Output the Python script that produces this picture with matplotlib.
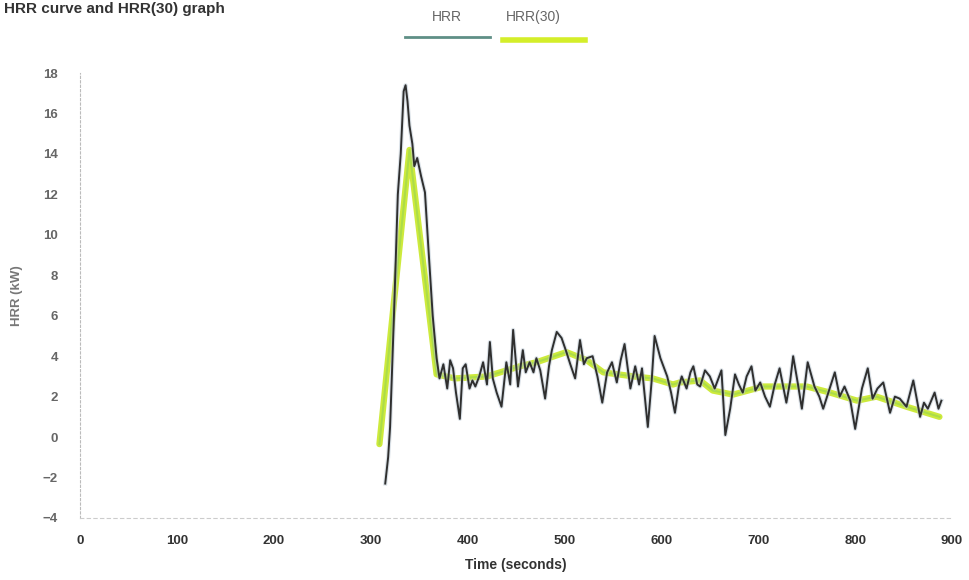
import matplotlib.pyplot as plt
from matplotlib.lines import Line2D

# raw HRR readings (time s, kW)
t_hrr = [315, 318, 320, 324, 328, 331, 334, 336, 338, 340, 343, 345, 348, 352, 356, 360,
         364, 368, 371, 375, 379, 382, 385, 388, 392, 395, 398, 402, 405, 408, 412, 416,
         420, 423, 426, 430, 435, 440, 444, 447, 452, 457, 460, 464, 468, 471, 475, 480,
         484, 487, 492, 497, 502, 506, 511, 516, 520, 523, 529, 534, 539, 544, 549, 554,
         558, 562, 568, 573, 577, 580, 586, 590, 593, 599, 606, 610, 614, 618, 621, 626,
         630, 633, 637, 640, 645, 650, 655, 662, 666, 671, 676, 680, 684, 688, 693, 697,
         702, 707, 712, 717, 722, 729, 733, 736, 741, 745, 751, 758, 763, 767, 773, 779,
         784, 789, 795, 800, 807, 813, 818, 823, 829, 836, 841, 846, 853, 860, 867, 871,
         875, 882, 886, 889]
hrr = [-2.3, -1.0, 0.5, 6.0, 12.0, 14.0, 17.1, 17.4, 16.6, 15.4, 14.5, 13.4, 13.8, 12.9, 12.1, 9.0,
       6.0, 3.9, 2.9, 3.6, 2.4, 3.8, 3.4, 2.2, 0.9, 3.4, 3.6, 2.4, 2.8, 2.5, 3.0, 3.7,
       2.6, 4.7, 2.9, 2.2, 1.5, 3.7, 2.6, 5.3, 2.5, 4.3, 3.2, 3.7, 3.2, 3.9, 3.3, 1.9,
       3.5, 4.3, 5.2, 4.9, 4.2, 3.6, 2.9, 4.8, 3.6, 3.9, 4.0, 3.0, 1.7, 3.2, 3.7, 2.7,
       3.8, 4.6, 2.4, 3.5, 2.6, 3.4, 0.5, 2.8, 5.0, 3.9, 3.0, 2.2, 1.2, 2.5, 3.0, 2.4,
       3.2, 3.5, 2.6, 2.5, 3.3, 3.0, 2.4, 3.3, 0.1, 1.4, 3.1, 2.6, 2.2, 3.0, 3.5, 2.3,
       2.7, 2.0, 1.5, 2.6, 3.4, 1.7, 2.8, 4.0, 2.6, 1.4, 3.7, 2.5, 2.0, 1.4, 2.3, 3.2,
       2.0, 2.5, 1.8, 0.4, 2.4, 3.4, 1.9, 2.4, 2.7, 1.2, 2.0, 1.9, 1.5, 2.8, 1.0, 1.7,
       1.4, 2.2, 1.4, 1.8]

# smoothed HRR(30)
t_hrr30 = [309, 340, 368, 387, 420, 454, 471, 502, 523, 540, 571, 591, 612, 619, 640, 653,
           674, 705, 750, 774, 802, 822, 853, 887]
hrr30 = [-0.35, 14.2, 3.1, 2.9, 3.0, 3.5, 3.7, 4.2, 3.8, 3.2, 3.0, 2.9, 2.6, 2.7, 2.8, 2.3,
         2.1, 2.5, 2.5, 2.2, 1.8, 2.0, 1.5, 1.0]

x_ticks = [0, 100, 200, 300, 400, 500, 600, 700, 800, 900]
y_ticks = [-4, -2, 0, 2, 4, 6, 8, 10, 12, 14, 16, 18]

plt.rcParams['font.family'] = ['Liberation Sans', 'DejaVu Sans']

fig = plt.figure(figsize=(9.7, 5.8), dpi=100)
ax = fig.add_axes([0.0825, 0.107, 0.899, 0.767])

ax.plot(t_hrr30, hrr30, color='#cdea3c', lw=4.5, solid_capstyle='round', zorder=2)
ax.plot(t_hrr30, hrr30, color='#96d452', lw=1.5, alpha=0.6, zorder=2)
ax.plot(t_hrr, hrr, color='#b9c6d2', lw=3.0, alpha=0.5, zorder=2.5)
ax.plot(t_hrr, hrr, color='#2f2f2f', lw=1.4, zorder=3)

ax.set_xlim(0, 900)
ax.set_ylim(-4, 18)
ax.set_xticks(x_ticks)
ax.set_yticks(y_ticks)
ax.tick_params(length=0, labelsize=9.5)
ax.tick_params(axis='y', pad=16, labelcolor='#666666')
ax.tick_params(axis='x', pad=12, labelcolor='#333333')
for lab in ax.get_xticklabels() + ax.get_yticklabels():
    lab.set_fontweight('bold')

for s in ['top', 'right']:
    ax.spines[s].set_visible(False)
ax.spines['left'].set_color('#bbbbbb')
ax.spines['left'].set_linestyle((0, (2, 2)))
ax.spines['bottom'].set_color('#cccccc')
ax.spines['bottom'].set_linestyle((0, (3, 3)))

ax.set_xlabel('Time (seconds)', fontsize=10, fontweight='bold', color='#333333', labelpad=8)
ax.set_ylabel('HRR (kW)', fontsize=9.5, fontweight='bold', color='#777777', labelpad=14)

# title at the top-left corner
fig.text(4 / 970, 1 - 2 / 580, 'HRR curve and HRR(30) graph', ha='left', va='top',
         fontsize=11, fontweight='bold', color='#333333')

# legend: labels above short line samples
fig.text(447 / 970, 1 - 17 / 580, 'HRR', ha='center', va='center', fontsize=10, color='#666666')
fig.text(533 / 970, 1 - 17 / 580, 'HRR(30)', ha='center', va='center', fontsize=10, color='#666666')
fig.add_artist(Line2D([405 / 970, 490 / 970], [1 - 37 / 580] * 2, color='#5f8f86', lw=2,
                      transform=fig.transFigure))
fig.add_artist(Line2D([503 / 970, 585 / 970], [1 - 40 / 580] * 2, color='#d4ee2a', lw=4,
                      transform=fig.transFigure))

fig.savefig('out.png', dpi=100)
